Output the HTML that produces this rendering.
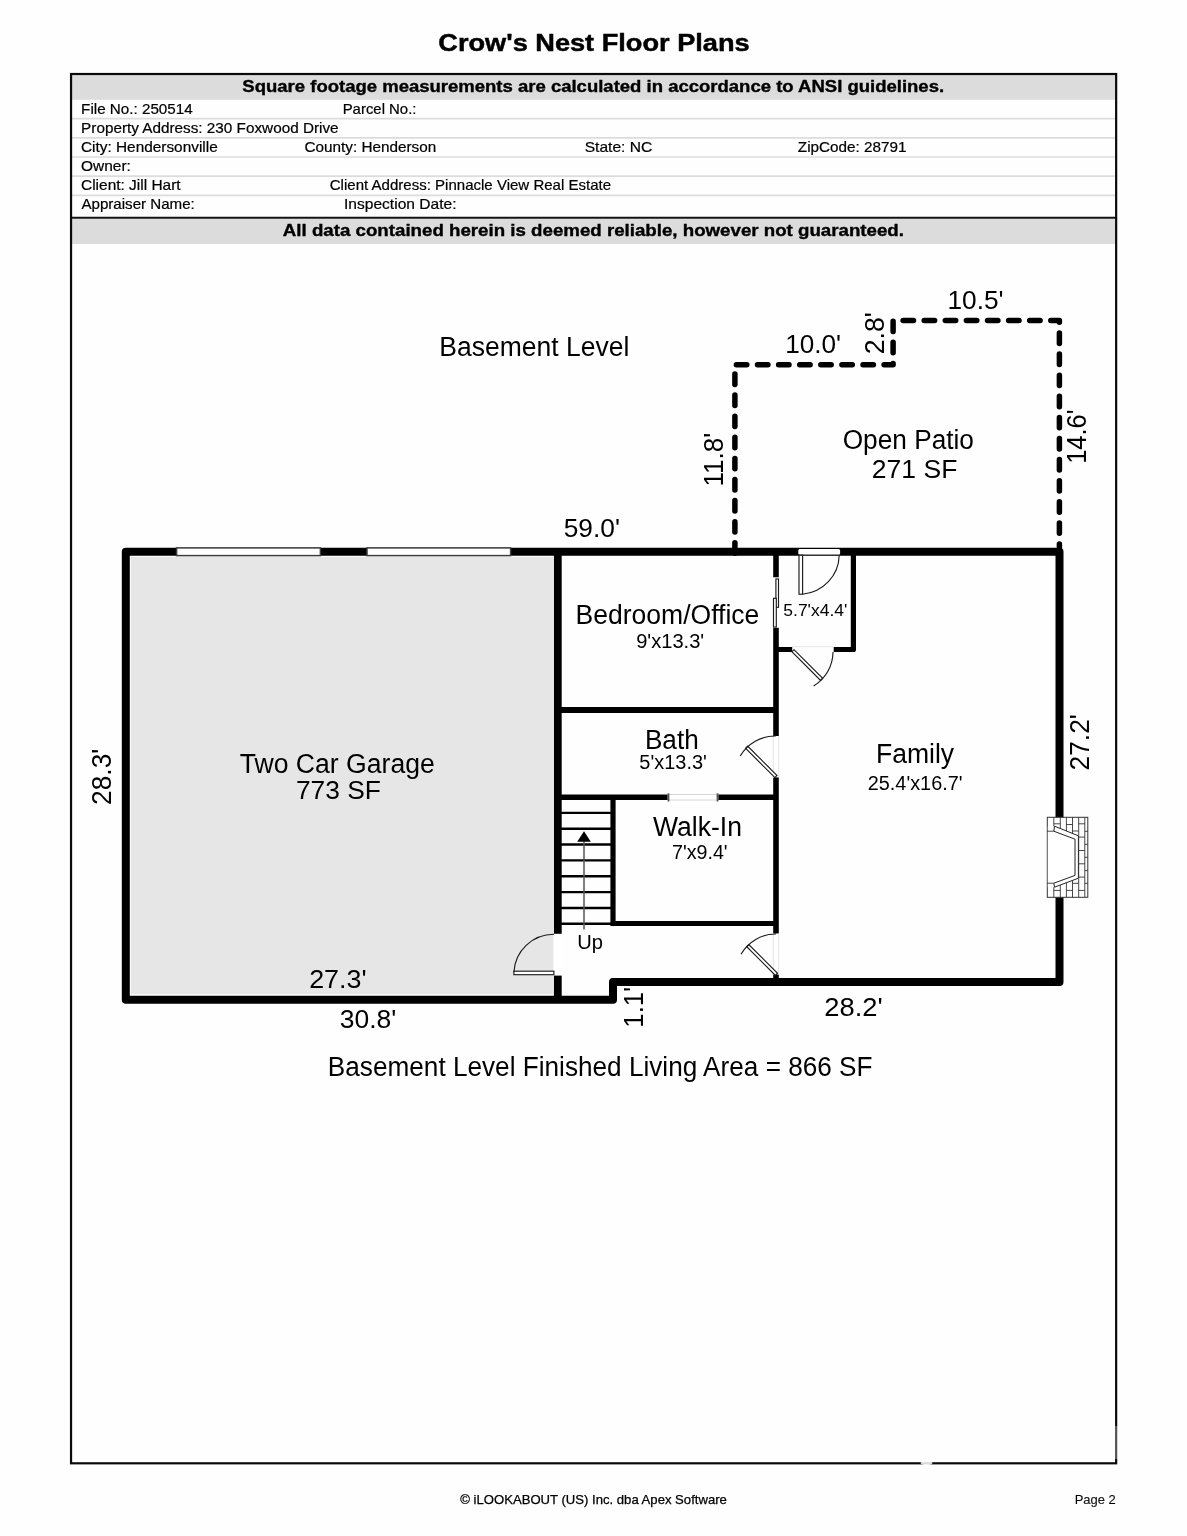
<!DOCTYPE html><html><head><meta charset="utf-8"><title>Crow's Nest Floor Plans</title>
<style>html,body{margin:0;padding:0;background:#fff;}svg{display:block;will-change:transform;}text{font-family:"Liberation Sans",sans-serif;fill:#000;}</style></head><body>
<svg width="1187" height="1536" viewBox="0 0 1187 1536">
<rect x="0" y="0" width="1187" height="1536" fill="#fefefe"/>
<g id="header">
<rect x="72" y="75" width="1043.5" height="24.8" fill="#dcdcdc"/>
<rect x="72" y="219" width="1043.5" height="25" fill="#dcdcdc"/>
<line x1="72" y1="118.6" x2="1115" y2="118.6" stroke="#dcdcdc" stroke-width="1.7"/>
<line x1="72" y1="137.8" x2="1115" y2="137.8" stroke="#dcdcdc" stroke-width="1.7"/>
<line x1="72" y1="157.0" x2="1115" y2="157.0" stroke="#dcdcdc" stroke-width="1.7"/>
<line x1="72" y1="176.2" x2="1115" y2="176.2" stroke="#dcdcdc" stroke-width="1.7"/>
<line x1="72" y1="195.3" x2="1115" y2="195.3" stroke="#dcdcdc" stroke-width="1.7"/>
<line x1="71" y1="217.75" x2="1116" y2="217.75" stroke="#111" stroke-width="2"/>
<rect x="71.05" y="74" width="1045.1" height="1389.3" fill="none" stroke="#0a0a0a" stroke-width="2.2"/>
<text x="438.28" y="51" font-size="23.7" textLength="311.36" lengthAdjust="spacingAndGlyphs" font-weight="bold" stroke="#000" stroke-width="0.45" >Crow's Nest Floor Plans</text>
<text x="242.35" y="92" font-size="15.9" textLength="701.75" lengthAdjust="spacingAndGlyphs" font-weight="bold" stroke="#000" stroke-width="0.35" >Square footage measurements are calculated in accordance to ANSI guidelines.</text>
<text x="282.83" y="235.6" font-size="15.9" textLength="621.15" lengthAdjust="spacingAndGlyphs" font-weight="bold" stroke="#000" stroke-width="0.35" >All data contained herein is deemed reliable, however not guaranteed.</text>
<text x="81.13" y="113.7" font-size="14.1" textLength="111.57" lengthAdjust="spacingAndGlyphs" stroke="#000" stroke-width="0.2" >File No.: 250514</text>
<text x="342.68" y="113.7" font-size="14.1" textLength="73.77" lengthAdjust="spacingAndGlyphs" stroke="#000" stroke-width="0.2" >Parcel No.:</text>
<text x="81.12" y="132.8" font-size="14.1" textLength="257.47" lengthAdjust="spacingAndGlyphs" stroke="#000" stroke-width="0.2" >Property Address: 230 Foxwood Drive</text>
<text x="81.01" y="151.9" font-size="14.1" textLength="136.7" lengthAdjust="spacingAndGlyphs" stroke="#000" stroke-width="0.2" >City: Hendersonville</text>
<text x="304.54" y="151.9" font-size="14.1" textLength="131.66" lengthAdjust="spacingAndGlyphs" stroke="#000" stroke-width="0.2" >County: Henderson</text>
<text x="584.68" y="151.9" font-size="14.1" textLength="67.53" lengthAdjust="spacingAndGlyphs" stroke="#000" stroke-width="0.2" >State: NC</text>
<text x="797.85" y="151.9" font-size="14.1" textLength="108.58" lengthAdjust="spacingAndGlyphs" stroke="#000" stroke-width="0.2" >ZipCode: 28791</text>
<text x="81.01" y="171" font-size="14.1" textLength="49.84" lengthAdjust="spacingAndGlyphs" stroke="#000" stroke-width="0.2" >Owner:</text>
<text x="81.01" y="190.1" font-size="14.1" textLength="99.68" lengthAdjust="spacingAndGlyphs" stroke="#000" stroke-width="0.2" >Client: Jill Hart</text>
<text x="329.76" y="190.1" font-size="14.1" textLength="281.36" lengthAdjust="spacingAndGlyphs" stroke="#000" stroke-width="0.2" >Client Address: Pinnacle View Real Estate</text>
<text x="81.41" y="209.2" font-size="14.1" textLength="113.36" lengthAdjust="spacingAndGlyphs" stroke="#000" stroke-width="0.2" >Appraiser Name:</text>
<text x="344.0" y="209.2" font-size="14.1" textLength="112.49" lengthAdjust="spacingAndGlyphs" stroke="#000" stroke-width="0.2" >Inspection Date:</text>
<text x="460.27" y="1503.9" font-size="12.7" textLength="266.58" lengthAdjust="spacingAndGlyphs" stroke="#000" stroke-width="0.25" >© iLOOKABOUT (US) Inc. dba Apex Software</text>
<text x="1074.65" y="1504" font-size="12.7" textLength="41.04" lengthAdjust="spacingAndGlyphs" fill="#505050" stroke="#505050" stroke-width="0.15" >Page 2</text>
</g>
<g id="plan">
<rect x="130.8" y="557" width="422.2" height="437.2" fill="#e6e6e6"/>
<path d="M734.9 553.2 V364.8 H893.1 V320.5 H1059.4 V548" fill="none" stroke="#000" stroke-width="5.5" stroke-dasharray="10.4 10.7" stroke-linecap="round" stroke-linejoin="round"/>
<path d="M125.8 551.8 H1059.5 V982.1 H613 V999.7 H125.8 Z" fill="none" stroke="#000" stroke-width="8" stroke-linejoin="round"/>
<g stroke="#000" fill="none" stroke-linecap="butt" stroke-linejoin="round">
<line x1="557.8" y1="552" x2="557.8" y2="1000" stroke-width="7.8"/>
<line x1="776" y1="552" x2="776" y2="982" stroke-width="5.6"/>
<line x1="558" y1="710" x2="776" y2="710" stroke-width="5.8"/>
<path d="M558 797.3 H668.5 M717.5 797.3 H776" stroke-width="5.4"/>
<path d="M613 797 V923.5 H776" stroke-width="5.2" stroke-linejoin="miter"/>
<path d="M853.4 552 V649.5 H833.7 M792.2 649.5 H776" stroke-width="5.2"/>
<line x1="560" y1="812.9" x2="613" y2="812.9" stroke-width="2.4"/>
<line x1="560" y1="828.7" x2="613" y2="828.7" stroke-width="2.4"/>
<line x1="560" y1="844.5" x2="613" y2="844.5" stroke-width="2.4"/>
<line x1="560" y1="860.4" x2="613" y2="860.4" stroke-width="2.4"/>
<line x1="560" y1="876.2" x2="613" y2="876.2" stroke-width="2.4"/>
<line x1="560" y1="892.1" x2="613" y2="892.1" stroke-width="2.4"/>
<line x1="560" y1="908.0" x2="613" y2="908.0" stroke-width="2.4"/>
<line x1="560" y1="923.8" x2="613" y2="923.8" stroke-width="2.4"/>
</g>
<line x1="584" y1="841" x2="584" y2="929.5" stroke="#555" stroke-width="1.5"/>
<path d="M584 831.2 L577.2 841.8 H590.8 Z" fill="#000"/>
<rect x="176.6" y="547.9" width="143.8" height="7.7" fill="#fff" stroke="#3c3c3c" stroke-width="1.5"/>
<rect x="367.0" y="547.9" width="143.6" height="7.7" fill="#fff" stroke="#3c3c3c" stroke-width="1.5"/>
<rect x="553.4" y="933.8" width="8.8" height="41.8" fill="#fff"/>
<rect x="772.8" y="736" width="6.4" height="41.4" fill="#fff"/>
<rect x="772.8" y="933.5" width="6.4" height="41" fill="#fff"/>
<rect x="772.8" y="577.3" width="6.4" height="50.5" fill="#fff"/>
<rect x="798.3" y="548.9" width="41.8" height="5.9" rx="1.5" fill="#fff"/>
<line x1="798.3" y1="555.2" x2="840.1" y2="555.2" stroke="#333" stroke-width="1"/>
<g stroke="#ddd" stroke-width="0.8" fill="none">
<path d="M773.3 736 V777.4 M778.7 736 V777.4 M773.3 933.5 V974.5 M778.7 933.5 V974.5 M792.2 646.7 H833.7"/>
</g>
<rect x="668" y="794.4" width="50" height="5.6" fill="#fff" stroke="#ccc" stroke-width="0.8"/>
<rect x="667.6" y="793.3" width="1.8" height="8.2" fill="#555"/>
<rect x="716.6" y="793.3" width="1.8" height="8.2" fill="#555"/>
<g stroke="#1c1c1c" stroke-width="1.15" fill="none">
<rect x="799" y="555.2" width="3.6" height="39" fill="#fff"/>
<path d="M839.2 555.2 A40 40 0 0 1 802.6 594.2"/>
<rect x="0" y="-1.5" width="40.4" height="3" fill="#fff" transform="translate(793 650.8) rotate(45)"/>
<path d="M833 652 A40 40 0 0 1 813.6 686"/>
<rect x="0" y="-1.5" width="41.4" height="3" fill="#fff" transform="translate(775.9 776.5) rotate(-135)"/>
<path d="M775.8 736 A40.5 40.5 0 0 0 740.2 756"/>
<rect x="0" y="-1.5" width="40.4" height="3" fill="#fff" transform="translate(776.4 974.3) rotate(-135)"/>
<path d="M776 934 A40 40 0 0 0 741 954.3"/>
<rect x="513.9" y="971.2" width="40" height="3.5" fill="#fff"/>
<path d="M513.9 972 A40 40 0 0 1 554 934.3"/>
<rect x="775.9" y="579" width="2.6" height="28.3" fill="#fff"/>
<rect x="773.5" y="598.3" width="2.8" height="28.7" fill="#fff"/>
</g>
<g id="fireplace">
<rect x="1047.3" y="817.3" width="40.5" height="80" fill="#fff" stroke="#333" stroke-width="1"/>
<path d="M1053.8 817.3 V897.3 M1060.3 817.3 V897.3 M1066.4 817.3 V897.3 M1072.5 817.3 V897.3 M1078.7 817.3 V897.3 M1084.8 817.3 V897.3 M1047.3 831.2 H1053.8 M1047.3 883.2 H1053.8 M1053.8 823.8 H1060.3 M1053.8 890.4 H1060.3 M1066.4 824.5 H1072.5 M1066.4 890.4 H1072.5 M1072.5 831 H1078.7 M1072.5 883.3 H1078.7 M1078.7 823.8 H1084.8 M1078.7 837.1 H1084.8 M1078.7 850.5 H1084.8 M1078.7 863.8 H1084.8 M1078.7 877.1 H1084.8 M1078.7 890.4 H1084.8 M1084.8 831.3 H1087.8 M1084.8 844.3 H1087.8 M1084.8 857.3 H1087.8 M1084.8 870.6 H1087.8 M1084.8 883.3 H1087.8" stroke="#333" stroke-width="0.9" fill="none"/>
<path d="M1047.8 826.2 H1054.5 L1078.4 835.8 V878.2 L1054.5 887.2 H1047.8 Z" fill="#fff" stroke="none"/>
<path d="M1054.5 826.2 L1078.4 835.8 V878.2 L1054.5 887.2 L1053.8 883.2 L1075 875.4 V839.2 L1053.8 831.2 Z" fill="#fff" stroke="#222" stroke-width="1"/>
<path d="M1047.3 831.2 H1053.8 M1047.3 883.2 H1053.8" stroke="#333" stroke-width="0.9"/>
</g>
<text x="439.37" y="355.9" font-size="27.0" textLength="190.09" lengthAdjust="spacingAndGlyphs" >Basement Level</text>
<text x="842.7" y="449.1" font-size="27.0" textLength="131.26" lengthAdjust="spacingAndGlyphs" >Open Patio</text>
<text x="871.86" y="477.5" font-size="26.4" textLength="85.54" lengthAdjust="spacingAndGlyphs" >271 SF</text>
<text x="575.57" y="624.3" font-size="27.0" textLength="183.77" lengthAdjust="spacingAndGlyphs" >Bedroom/Office</text>
<text x="636.17" y="647.7" font-size="19.5" textLength="68.06" lengthAdjust="spacingAndGlyphs" >9'x13.3'</text>
<text x="783.33" y="616" font-size="17.4" textLength="64.0" lengthAdjust="spacingAndGlyphs" >5.7'x4.4'</text>
<text x="644.94" y="748.7" font-size="27.0" textLength="53.76" lengthAdjust="spacingAndGlyphs" >Bath</text>
<text x="639.38" y="768.8" font-size="19.5" textLength="67.5" lengthAdjust="spacingAndGlyphs" >5'x13.3'</text>
<text x="653.07" y="835.9" font-size="27.0" textLength="88.92" lengthAdjust="spacingAndGlyphs" >Walk-In</text>
<text x="671.99" y="858.7" font-size="19.5" textLength="55.64" lengthAdjust="spacingAndGlyphs" >7'x9.4'</text>
<text x="875.97" y="763.3" font-size="27.0" textLength="78.16" lengthAdjust="spacingAndGlyphs" >Family</text>
<text x="867.78" y="789.6" font-size="19.5" textLength="94.75" lengthAdjust="spacingAndGlyphs" >25.4'x16.7'</text>
<text x="239.74" y="773" font-size="27.0" textLength="195.03" lengthAdjust="spacingAndGlyphs" >Two Car Garage</text>
<text x="295.94" y="798.9" font-size="26.4" textLength="84.92" lengthAdjust="spacingAndGlyphs" >773 SF</text>
<text x="577.16" y="949.4" font-size="19.6" textLength="25.72" lengthAdjust="spacingAndGlyphs" >Up</text>
<text x="327.86" y="1075.5" font-size="27.0" textLength="544.7" lengthAdjust="spacingAndGlyphs" >Basement Level Finished Living Area = 866 SF</text>
<text x="947.41" y="308.9" font-size="26.4" textLength="56.16" lengthAdjust="spacingAndGlyphs" >10.5'</text>
<text x="785.22" y="352.6" font-size="26.4" textLength="55.87" lengthAdjust="spacingAndGlyphs" >10.0'</text>
<text x="563.74" y="537.3" font-size="26.4" textLength="56.2" lengthAdjust="spacingAndGlyphs" >59.0'</text>
<text x="309.18" y="987.9" font-size="26.4" textLength="57.39" lengthAdjust="spacingAndGlyphs" >27.3'</text>
<text x="339.8" y="1028.3" font-size="26.4" textLength="56.51" lengthAdjust="spacingAndGlyphs" >30.8'</text>
<text x="824.35" y="1015.9" font-size="26.4" textLength="58.44" lengthAdjust="spacingAndGlyphs" >28.2'</text>
<text x="884" y="354.21" font-size="27.7" textLength="42.07" lengthAdjust="spacingAndGlyphs" transform="rotate(-90 884 354.21)" >2.8'</text>
<text x="723.4" y="486.61" font-size="27.7" textLength="53.75" lengthAdjust="spacingAndGlyphs" transform="rotate(-90 723.4 486.61)" >11.8'</text>
<text x="1085.9" y="463.76" font-size="27.7" textLength="54.33" lengthAdjust="spacingAndGlyphs" transform="rotate(-90 1085.9 463.76)" >14.6'</text>
<text x="111" y="804.92" font-size="27.7" textLength="56.21" lengthAdjust="spacingAndGlyphs" transform="rotate(-90 111 804.92)" >28.3'</text>
<text x="1088.7" y="770.46" font-size="27.7" textLength="56.32" lengthAdjust="spacingAndGlyphs" transform="rotate(-90 1088.7 770.46)" >27.2'</text>
<text x="643.1" y="1027.67" font-size="27.7" textLength="40.8" lengthAdjust="spacingAndGlyphs" transform="rotate(-90 643.1 1027.67)" >1.1'</text>
</g>
<rect x="1114" y="1426" width="5" height="33" fill="#fff" opacity="0.3"/><ellipse cx="926.5" cy="1463" rx="6" ry="2" fill="#fff" opacity="0.85"/>
</svg></body></html>
